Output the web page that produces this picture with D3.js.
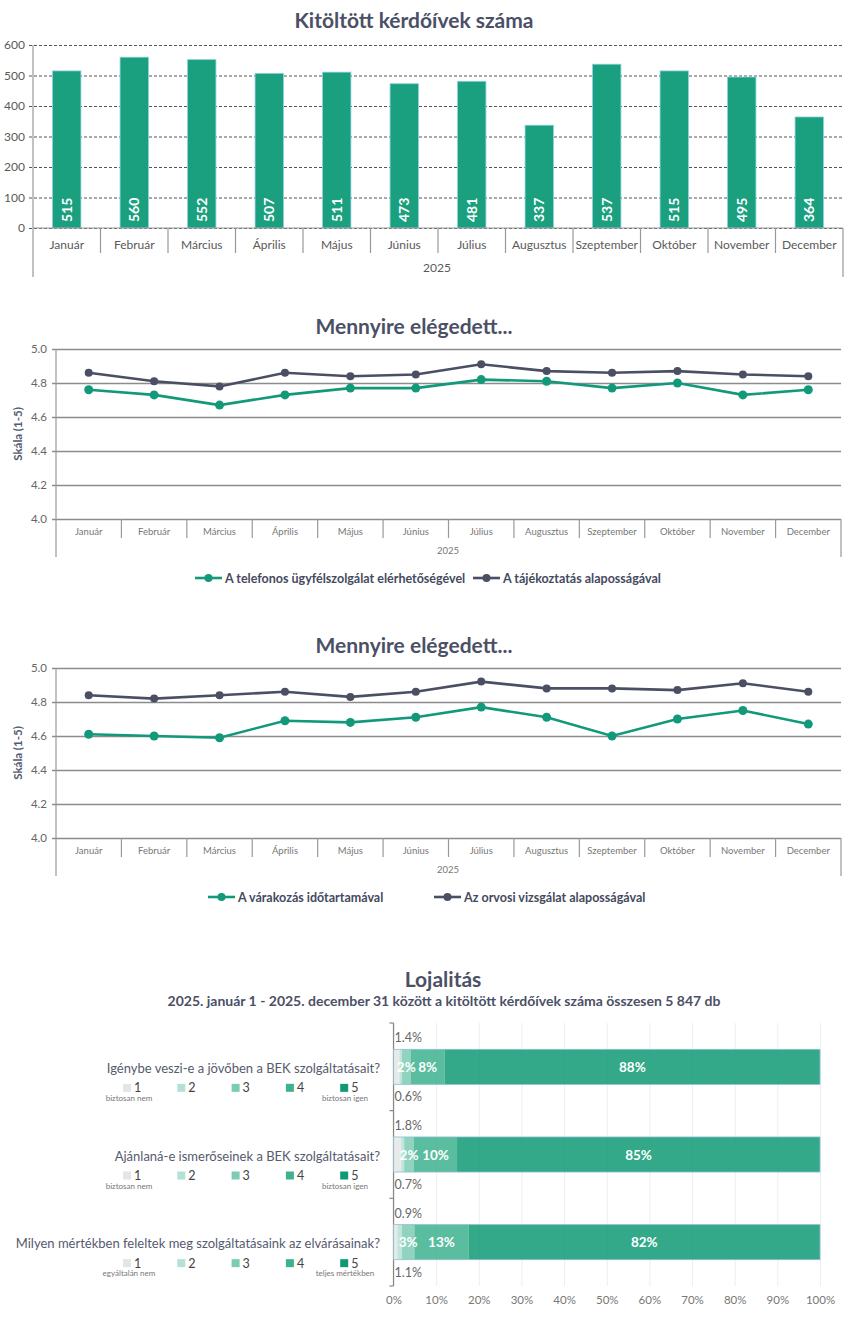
<!DOCTYPE html>
<html>
<head>
<meta charset="utf-8">
<script src="https://cdn.jsdelivr.net/npm/d3@7"></script>
<style>
  body { margin: 0; background: #fff; }
  svg { display: block; font-family: Lato, "Open Sans", sans-serif; }
</style>
</head>
<body>
<div id="viscontainer"></div>
<script>
const months = ["Január", "Február", "Március", "Április", "Május", "Június",
  "Július", "Augusztus", "Szeptember", "Október", "November", "December"];
const yearLabel = "2025";

const surveyCounts = [515, 560, 552, 507, 511, 473, 481, 337, 537, 515, 495, 364];
const countTicks = [0, 100, 200, 300, 400, 500, 600];

const phoneScores = [4.76, 4.73, 4.67, 4.73, 4.77, 4.77, 4.82, 4.81, 4.77, 4.80, 4.73, 4.76];
const infoScores = [4.86, 4.81, 4.78, 4.86, 4.84, 4.85, 4.91, 4.87, 4.86, 4.87, 4.85, 4.84];
const waitScores = [4.61, 4.60, 4.59, 4.69, 4.68, 4.71, 4.77, 4.71, 4.60, 4.70, 4.75, 4.67];
const examScores = [4.84, 4.82, 4.84, 4.86, 4.83, 4.86, 4.92, 4.88, 4.88, 4.87, 4.91, 4.86];
const scoreTicks = [4.0, 4.2, 4.4, 4.6, 4.8, 5.0];

const questions = [
  "Igénybe veszi-e a jövőben a BEK szolgáltatásait?",
  "Ajánlaná-e ismerőseinek a BEK szolgáltatásait?",
  "Milyen mértékben feleltek meg szolgáltatásaink az elvárásainak?"
];
const answerLevels = ["1", "2", "3", "4", "5"];
const answerShares = [
  [1.4, 0.6, 2.0, 8.0, 88.0],
  [1.8, 0.7, 2.3, 10.1, 85.1],
  [0.9, 1.1, 2.9, 12.7, 82.4]
];
const scaleEnds = [
  ["biztosan nem", "biztosan igen"],
  ["biztosan nem", "biztosan igen"],
  ["egyáltalán nem", "teljes mértékben"]
];
const percentTicks = [0, 10, 20, 30, 40, 50, 60, 70, 80, 90, 100];

const width = 850;
const height = 1332;
const titleColor = "#4b5066";
const green = "#12997a";
const slate = "#4b4f64";

const svg = d3.select("#viscontainer").append("svg")
  .attr("width", width)
  .attr("height", height);

function title(text, x, y, size) {
  svg.append("text")
    .attr("x", x).attr("y", y)
    .attr("text-anchor", "middle")
    .attr("font-size", size)
    .attr("font-weight", 700)
    .attr("fill", titleColor)
    .text(text);
}

// ---------- bar chart ----------
function drawBars() {
  const left = 33, right = 843, top = 45, base = 228;

  title("Kitöltött kérdőívek száma", 414, 28, 21);

  const x = d3.scaleBand().domain(months).range([left, right])
    .paddingInner(0.58).paddingOuter(0.29);
  const cells = d3.scaleBand().domain(months).range([left, right]);
  const y = d3.scaleLinear().domain([0, 600]).range([base, top]);

  const g = svg.append("g");

  g.append("g")
    .attr("transform", `translate(${left},0)`)
    .call(d3.axisLeft(y).tickValues(countTicks).tickSize(-(right - left)).tickPadding(8))
    .call(a => a.select(".domain").remove())
    .call(a => a.selectAll(".tick line")
      .attr("stroke", "#555").attr("stroke-dasharray", "3,2").attr("x1", -4))
    .call(a => a.selectAll(".tick text")
      .attr("font-size", 12).attr("fill", "#595959").attr("font-family", "Lato"));

  g.selectAll(".bar")
    .data(surveyCounts)
    .join("rect")
    .attr("class", "bar")
    .attr("x", (d, i) => x(months[i]))
    .attr("y", d => y(d))
    .attr("width", x.bandwidth())
    .attr("height", d => base - y(d))
    .attr("fill", "#1a9f7f")
    .attr("stroke", "#8ccfe0")
    .attr("stroke-width", 0.8);

  g.selectAll(".bar-label")
    .data(surveyCounts)
    .join("text")
    .attr("class", "bar-label")
    .attr("transform", (d, i) => `translate(${x(months[i]) + x.bandwidth() / 2 + 5},${base - 6}) rotate(-90)`)
    .attr("font-size", 14)
    .attr("font-weight", 700)
    .attr("fill", "#fff")
    .text(d => d);

  // axis line + month cells
  g.append("line").attr("x1", left).attr("x2", right).attr("y1", base).attr("y2", base)
    .attr("stroke", "#999").attr("stroke-width", 1.2);
  g.append("line").attr("x1", left).attr("x2", left).attr("y1", top).attr("y2", 277)
    .attr("stroke", "#999").attr("stroke-width", 1.2);
  g.append("line").attr("x1", right).attr("x2", right).attr("y1", base).attr("y2", 277)
    .attr("stroke", "#999").attr("stroke-width", 1.2);
  g.selectAll(".sep")
    .data(months.slice(1))
    .join("line")
    .attr("class", "sep")
    .attr("x1", d => cells(d)).attr("x2", d => cells(d))
    .attr("y1", base).attr("y2", 253)
    .attr("stroke", "#999").attr("stroke-width", 1.2);

  g.selectAll(".month")
    .data(months)
    .join("text")
    .attr("class", "month")
    .attr("x", d => cells(d) + cells.bandwidth() / 2)
    .attr("y", 249)
    .attr("text-anchor", "middle")
    .attr("font-size", 12)
    .attr("fill", "#595959")
    .text(d => d);

  g.append("text").attr("x", 437).attr("y", 272).attr("text-anchor", "middle")
    .attr("font-size", 12).attr("fill", "#595959").text(yearLabel);
}

// ---------- line charts ----------
function drawLines(cfg) {
  const left = 56, right = 841;
  const top = cfg.top, base = cfg.top + 170;

  title("Mennyire elégedett...", 414, cfg.top - 15, 21);

  const x = d3.scalePoint().domain(months).range([left, right]).padding(0.5);
  const cells = d3.scaleBand().domain(months).range([left, right]);
  const y = d3.scaleLinear().domain([4, 5]).range([base, top]);

  const g = svg.append("g");

  g.append("g")
    .attr("transform", `translate(${left},0)`)
    .call(d3.axisLeft(y).tickValues(scoreTicks).tickFormat(d3.format(".1f"))
      .tickSize(-(right - left)).tickPadding(9))
    .call(a => a.select(".domain").remove())
    .call(a => a.selectAll(".tick line")
      .attr("stroke", "#8c8c8c").attr("stroke-width", 1.3).attr("x1", -4))
    .call(a => a.selectAll(".tick text")
      .attr("font-size", 11.5).attr("fill", "#666").attr("font-family", "Lato"));

  g.append("text")
    .attr("transform", `translate(22,${(top + base) / 2}) rotate(-90)`)
    .attr("text-anchor", "middle")
    .attr("font-size", 11.5)
    .attr("font-weight", 700)
    .attr("fill", "#555a6e")
    .text("Skála (1-5)");

  g.append("line").attr("x1", left).attr("x2", left).attr("y1", top).attr("y2", base + 38)
    .attr("stroke", "#999").attr("stroke-width", 1.2);
  g.append("line").attr("x1", right).attr("x2", right).attr("y1", base).attr("y2", base + 38)
    .attr("stroke", "#999").attr("stroke-width", 1.2);
  g.selectAll(".sep")
    .data(months.slice(1))
    .join("line")
    .attr("class", "sep")
    .attr("x1", d => cells(d)).attr("x2", d => cells(d))
    .attr("y1", base).attr("y2", base + 19)
    .attr("stroke", "#999").attr("stroke-width", 1.2);

  g.selectAll(".month")
    .data(months)
    .join("text")
    .attr("class", "month")
    .attr("x", d => x(d))
    .attr("y", base + 16)
    .attr("text-anchor", "middle")
    .attr("font-size", 9.5)
    .attr("fill", "#777")
    .text(d => d);

  g.append("text").attr("x", 448).attr("y", base + 35).attr("text-anchor", "middle")
    .attr("font-size", 9.5).attr("fill", "#777").text(yearLabel);

  const line = d3.line().x((d, i) => x(months[i])).y(d => y(d));

  cfg.series.forEach(s => {
    g.append("path")
      .datum(s.values)
      .attr("d", line)
      .attr("fill", "none")
      .attr("stroke", s.color)
      .attr("stroke-width", 2.6);
    g.selectAll(null)
      .data(s.values)
      .join("circle")
      .attr("cx", (d, i) => x(months[i]))
      .attr("cy", d => y(d))
      .attr("r", s.r)
      .attr("fill", s.color);
  });

  // legend
  const ly = base + 59;
  cfg.series.forEach(s => {
    g.append("line").attr("x1", s.lx).attr("x2", s.lx + 27).attr("y1", ly).attr("y2", ly)
      .attr("stroke", s.color).attr("stroke-width", 2.6);
    g.append("circle").attr("cx", s.lx + 13.5).attr("cy", ly).attr("r", 4).attr("fill", s.color);
    g.append("text").attr("x", s.lx + 30).attr("y", ly + 4.5)
      .attr("font-size", 12.5).attr("font-weight", 700).attr("fill", "#444a5e")
      .text(s.name);
  });
}

// ---------- loyalty stacked bars ----------
function drawLoyalty() {
  title("Lojalitás", 443, 987, 21);
  svg.append("text")
    .attr("x", 444).attr("y", 1006)
    .attr("text-anchor", "middle")
    .attr("font-size", 14)
    .attr("font-weight", 700)
    .attr("fill", titleColor)
    .text("2025. január 1 - 2025. december 31 között a kitöltött kérdőívek száma összesen 5 847 db");

  const x = d3.scaleLinear().domain([0, 100]).range([393.5, 820]);
  const y = d3.scaleBand().domain(questions).range([1023, 1286]).paddingInner(0.6).paddingOuter(0.3);
  const bands = d3.scaleBand().domain(questions).range([1023, 1286]);
  const colors = d3.scaleOrdinal().domain(answerLevels)
    .range(["#e4e6e6", "#b5e0d5", "#7ccbb4", "#3eb28e", "#0f9a74"]);
  const whole = d3.format(".0f");

  const g = svg.append("g");

  g.append("g")
    .attr("transform", "translate(0,1286)")
    .call(d3.axisBottom(x).tickValues(percentTicks).tickFormat(d => d + "%")
      .tickSize(-263).tickPadding(10))
    .call(a => a.select(".domain").remove())
    .call(a => a.selectAll(".tick line").attr("stroke", "#eceef2"))
    .call(a => a.selectAll(".tick text")
      .attr("font-size", 11.5).attr("fill", "#777").attr("font-family", "Lato"));

  g.append("line").attr("x1", x(0)).attr("x2", x(0)).attr("y1", 1023).attr("y2", 1286)
    .attr("stroke", "#888").attr("stroke-width", 1.2);
  g.selectAll(".ytick")
    .data([...questions.map(q => bands(q)), 1286])
    .join("line")
    .attr("x1", x(0) - 4).attr("x2", x(0))
    .attr("y1", d => d).attr("y2", d => d)
    .attr("stroke", "#888").attr("stroke-width", 1.2);

  questions.forEach((q, qi) => {
    const shares = answerShares[qi];
    const stack = d3.cumsum(shares);
    const by = y(q), bh = y.bandwidth();
    const cy = by + bh / 2;

    g.selectAll(null)
      .data(shares)
      .join("rect")
      .attr("x", (d, i) => x(stack[i] - d))
      .attr("y", by)
      .attr("width", d => x(d) - x(0))
      .attr("height", bh)
      .attr("fill", (d, i) => colors(answerLevels[i]))
      .attr("fill-opacity", 0.85);
    g.append("rect")
      .attr("x", x(0)).attr("y", by)
      .attr("width", x(stack[4]) - x(0)).attr("height", bh)
      .attr("fill", "none").attr("stroke", "#8fbfd2").attr("stroke-width", 0.8);

    // inside labels
    g.selectAll(null)
      .data(shares.slice(2))
      .join("text")
      .attr("x", (d, i) => x(stack[i + 2] - d / 2))
      .attr("y", cy + 5)
      .attr("text-anchor", "middle")
      .attr("font-size", 13.5)
      .attr("font-weight", 700)
      .attr("fill", "#fff")
      .text(d => whole(d) + "%");

    // outside labels for the two smallest levels
    g.append("text").attr("x", x(0) + 1).attr("y", by - 7)
      .attr("font-size", 12.5).attr("fill", "#666").text(d3.format(".1f")(shares[0]) + "%");
    g.append("text").attr("x", x(0) + 1).attr("y", by + bh + 17)
      .attr("font-size", 12.5).attr("fill", "#666").text(d3.format(".1f")(shares[1]) + "%");

    // question + mini legend
    g.append("text").attr("x", 380).attr("y", cy + 6)
      .attr("text-anchor", "end")
      .attr("font-size", 13).attr("fill", "#555a6e").text(q);

    const legY = cy + 21;
    answerLevels.forEach((lvl, i) => {
      const lx = 123 + i * 54.3;
      g.append("rect").attr("x", lx).attr("y", legY - 4).attr("width", 8).attr("height", 8)
        .attr("fill", colors(lvl));
      g.append("text").attr("x", lx + 11).attr("y", legY + 4.5)
        .attr("font-size", 12.5).attr("fill", "#444").text(lvl);
    });
    g.append("text").attr("x", 129).attr("y", legY + 13)
      .attr("text-anchor", "middle").attr("font-size", 8).attr("fill", "#777").text(scaleEnds[qi][0]);
    g.append("text").attr("x", 345).attr("y", legY + 13)
      .attr("text-anchor", "middle").attr("font-size", 8).attr("fill", "#777").text(scaleEnds[qi][1]);
  });
}

drawBars();
drawLines({
  top: 349,
  series: [
    { name: "A telefonos ügyfélszolgálat elérhetőségével", values: phoneScores, color: green, r: 4.5, lx: 195 },
    { name: "A tájékoztatás alaposságával", values: infoScores, color: slate, r: 4, lx: 473 }
  ]
});
drawLines({
  top: 668,
  series: [
    { name: "A várakozás időtartamával", values: waitScores, color: green, r: 4.5, lx: 208 },
    { name: "Az orvosi vizsgálat alaposságával", values: examScores, color: slate, r: 4, lx: 434 }
  ]
});
drawLoyalty();
</script>
</body>
</html>
